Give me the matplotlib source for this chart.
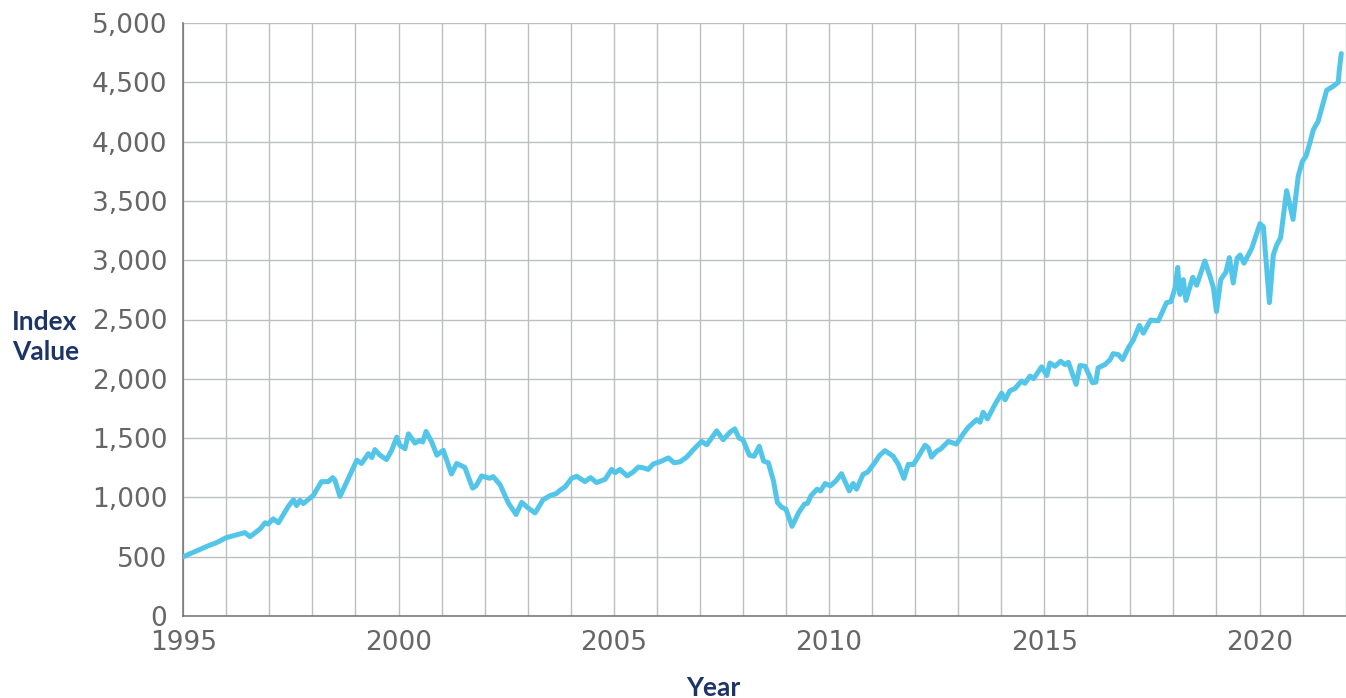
"""
index value by year, 1995-2021, single line on a year/500 grid
"""

import matplotlib
matplotlib.use('Agg')
import matplotlib.pyplot as plt
from matplotlib.ticker import FixedLocator, FuncFormatter

# values (decimal year, index value)
years = [
    1995.00, 1995.58, 1995.78, 1996.00, 1996.43, 1996.55, 1996.78, 1996.90,
    1996.97, 1997.09, 1997.21, 1997.44, 1997.56, 1997.63, 1997.71, 1997.79,
    1998.02, 1998.21, 1998.37, 1998.47, 1998.52, 1998.64, 1999.03, 1999.14,
    1999.30, 1999.38, 1999.45, 1999.57, 1999.72, 1999.84, 1999.96, 2000.03,
    2000.15, 2000.23, 2000.38, 2000.50, 2000.56, 2000.64, 2000.77, 2000.89,
    2001.04, 2001.23, 2001.35, 2001.54, 2001.72, 2001.80, 2001.93, 2002.12,
    2002.20, 2002.36, 2002.55, 2002.73, 2002.86, 2003.01, 2003.17, 2003.36,
    2003.52, 2003.67, 2003.75, 2003.87, 2004.02, 2004.14, 2004.33, 2004.46,
    2004.60, 2004.80, 2004.95, 2005.03, 2005.14, 2005.31, 2005.45, 2005.57,
    2005.68, 2005.80, 2005.92, 2006.07, 2006.27, 2006.40, 2006.54, 2006.69,
    2006.85, 2007.04, 2007.16, 2007.39, 2007.54, 2007.70, 2007.81, 2007.91,
    2008.00, 2008.15, 2008.26, 2008.38, 2008.48, 2008.59, 2008.71, 2008.80,
    2008.90, 2009.00, 2009.14, 2009.30, 2009.43, 2009.50, 2009.58, 2009.72,
    2009.80, 2009.91, 2010.03, 2010.16, 2010.29, 2010.47, 2010.56, 2010.64,
    2010.79, 2010.90, 2011.06, 2011.18, 2011.30, 2011.49, 2011.61, 2011.74,
    2011.84, 2011.96, 2012.08, 2012.23, 2012.31, 2012.38, 2012.50, 2012.60,
    2012.77, 2012.96, 2013.12, 2013.24, 2013.43, 2013.51, 2013.58, 2013.68,
    2013.86, 2014.01, 2014.09, 2014.20, 2014.32, 2014.47, 2014.55, 2014.67,
    2014.75, 2014.94, 2015.06, 2015.13, 2015.25, 2015.38, 2015.48, 2015.56,
    2015.74, 2015.83, 2015.95, 2016.12, 2016.20, 2016.25, 2016.41, 2016.53,
    2016.60, 2016.72, 2016.82, 2016.95, 2017.07, 2017.21, 2017.30, 2017.47,
    2017.65, 2017.84, 2017.94, 2018.04, 2018.10, 2018.15, 2018.23, 2018.29,
    2018.45, 2018.54, 2018.73, 2018.85, 2018.93, 2019.00, 2019.10, 2019.22,
    2019.30, 2019.39, 2019.48, 2019.55, 2019.64, 2019.82, 2020.01, 2020.09,
    2020.23, 2020.32, 2020.40, 2020.49, 2020.63, 2020.78, 2020.90, 2021.00,
    2021.08, 2021.17, 2021.25, 2021.36, 2021.56, 2021.71, 2021.83, 2021.85,
    2021.90,
]
values = [
    500, 592, 620, 661, 703, 669, 733, 786,
    775, 819, 786, 925, 981, 931, 975, 948,
    1017, 1133, 1133, 1167, 1147, 1008, 1314, 1286,
    1369, 1336, 1403, 1356, 1319, 1397, 1508, 1439,
    1411, 1536, 1458, 1481, 1467, 1556, 1467, 1356,
    1397, 1197, 1286, 1253, 1078, 1097, 1181, 1161,
    1175, 1106, 953, 856, 958, 911, 869, 981,
    1015, 1033, 1060, 1089, 1161, 1178, 1133, 1167,
    1125, 1153, 1236, 1208, 1236, 1181, 1214, 1256,
    1250, 1236, 1283, 1300, 1333, 1292, 1300, 1339,
    1403, 1472, 1444, 1561, 1486, 1550, 1578, 1500,
    1486, 1356, 1347, 1431, 1306, 1292, 1139, 958,
    917, 900, 756, 875, 944, 950, 1014, 1069,
    1055, 1117, 1097, 1139, 1200, 1055, 1117, 1069,
    1194, 1214, 1292, 1356, 1394, 1347, 1278, 1160,
    1278, 1278, 1347, 1440, 1417, 1340, 1389, 1410,
    1472, 1450, 1537, 1593, 1656, 1634, 1718, 1662,
    1787, 1879, 1823, 1898, 1918, 1981, 1962, 2023,
    2001, 2101, 2028, 2133, 2106, 2148, 2120, 2139,
    1953, 2112, 2106, 1967, 1972, 2092, 2120, 2162,
    2212, 2204, 2162, 2259, 2328, 2450, 2385, 2495,
    2489, 2642, 2650, 2767, 2939, 2711, 2836, 2661,
    2856, 2789, 2994, 2864, 2767, 2567, 2836, 2900,
    3022, 2808, 3017, 3044, 2975, 3100, 3308, 3281,
    2642, 3044, 3128, 3189, 3586, 3344, 3711, 3836,
    3878, 3989, 4100, 4169, 4433, 4466, 4500, 4590,
    4742,
]

year_ticks = list(range(1995, 2023))
year_labels = [1995, 2000, 2005, 2010, 2015, 2020]
value_ticks = list(range(0, 5001, 500))

# colours
line_col  = '#52c5e8'
grid_col  = '#bcbec0'
spine_col = '#707070'
text_col  = '#666666'
navy      = '#1c3566'

W, H, DPI = 1346, 698, 100
fig = plt.figure(figsize=(W / DPI, H / DPI), dpi=DPI)
ax = fig.add_axes([183.3 / W, 1 - 616 / H, (1345.6 - 183.3) / W, (616 - 23) / H])

ax.plot(years, values, color=line_col, lw=3.6, solid_joinstyle='round',
        solid_capstyle='round', zorder=3)

ax.set_xlim(1995, 2022)
ax.set_ylim(0, 5000)

ax.xaxis.set_major_locator(FixedLocator(year_ticks))
ax.xaxis.set_major_formatter(FuncFormatter(
    lambda v, p: str(int(round(v))) if int(round(v)) in year_labels else ''))
ax.yaxis.set_major_locator(FixedLocator(value_ticks))
ax.yaxis.set_major_formatter(FuncFormatter(lambda v, p: '{:,.0f}'.format(v)))

ax.grid(True, color=grid_col, lw=1.0, zorder=0)
ax.set_axisbelow(True)
ax.tick_params(length=0, labelsize=19, labelcolor=text_col)
ax.tick_params(axis='y', pad=11.5)
ax.tick_params(axis='x', pad=10)

for s in ['top', 'right']:
    ax.spines[s].set_visible(False)
for s in ['left', 'bottom']:
    ax.spines[s].set_color(spine_col)
    ax.spines[s].set_linewidth(1.1)

fig.text(12 / W, 1 - 337 / H, 'Index\nValue', ha='left', va='center',
         fontsize=19, fontweight='bold', family=['Lato', 'DejaVu Sans'],
         color=navy, linespacing=1.25)
fig.text(713 / W, 1.5 / H, 'Year', ha='center', va='baseline',
         fontsize=19, fontweight='bold', family=['Lato', 'DejaVu Sans'],
         color=navy)

plt.savefig('out.png', dpi=DPI)
